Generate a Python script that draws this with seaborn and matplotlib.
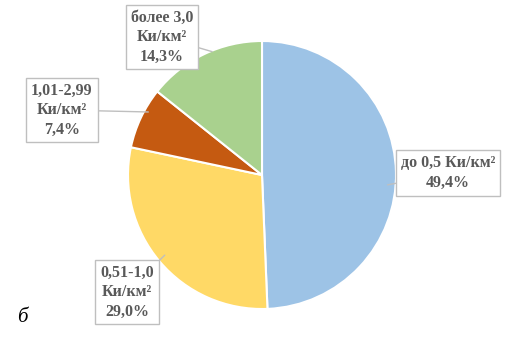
import numpy as np
import matplotlib
matplotlib.use("Agg")
import matplotlib.pyplot as plt
import seaborn as sns

# data
categories = ["до 0,5 Ки/км²", "0,51-1,0\nКи/км²", "1,01-2,99\nКи/км²", "более 3,0\nКи/км²"]
shares = [49.4, 29.0, 7.4, 14.3]
pct_labels = ["49,4%", "29,0%", "7,4%", "14,3%"]
colors = ["#9DC3E6", "#FFD966", "#C55A11", "#A9D18E"]

sns.set_theme(style="white")
plt.rcParams["font.family"] = ["Liberation Serif", "DejaVu Serif"]

fig = plt.figure(figsize=(5.05, 3.5), dpi=100)
ax = fig.add_axes([0, 0, 1, 1])

center = (262, 175)
radius = 134
wedges, _ = ax.pie(shares, colors=colors, startangle=90, counterclock=False,
                   center=center, radius=radius,
                   wedgeprops=dict(edgecolor="white", linewidth=1.5))

ax.set_xlim(0, 505)
ax.set_ylim(0, 350)
ax.set_aspect("equal")
ax.axis("off")

# callout boxes: text centre and angle/radius of the pointer on the pie
box_pos = [(448, 177), (127, 58), (62, 240), (162, 313)]
pointer = [(-4.5, 126), (219.5, 126), (151, 130), (112, 133)]

text_color = "#595959"
for cat, pct, (bx, by), (ang, r) in zip(categories, pct_labels, box_pos, pointer):
    px = center[0] + r * np.cos(np.radians(ang))
    py = center[1] + r * np.sin(np.radians(ang))
    ax.annotate(f"{cat}\n{pct}", xy=(px, py), xytext=(bx, by),
                ha="center", va="center", fontsize=11.5, fontweight="bold",
                color=text_color, linespacing=1.3,
                bbox=dict(boxstyle="square,pad=0.3", fc="white", ec="#BFBFBF", lw=1),
                arrowprops=dict(arrowstyle="-", color="#BFBFBF", lw=1,
                                shrinkA=0, shrinkB=0))

ax.text(22, 32, "б", fontsize=15, style="italic", color="black",
        ha="center", va="center")

fig.savefig("out.png", dpi=100)
